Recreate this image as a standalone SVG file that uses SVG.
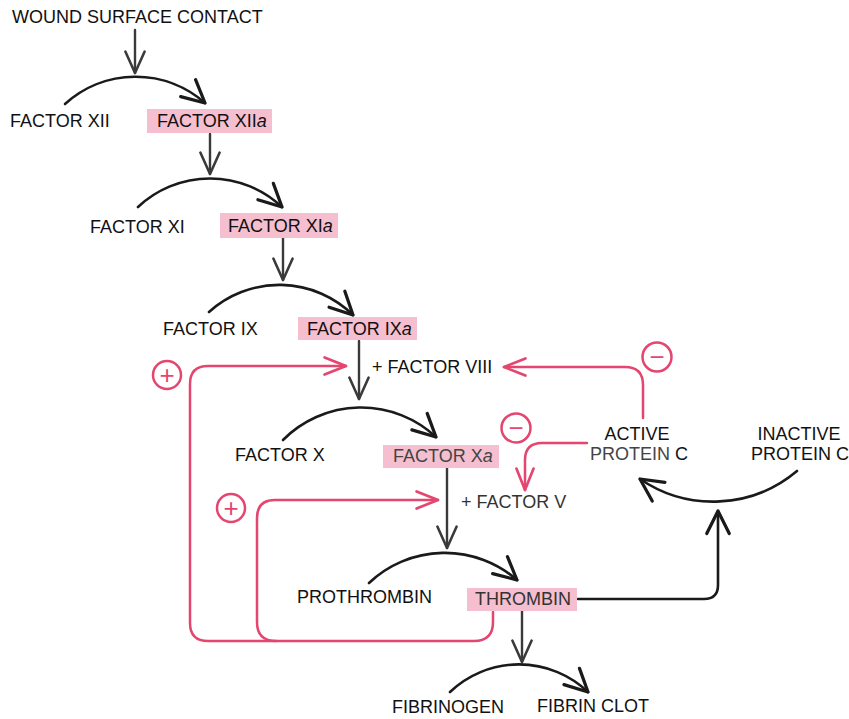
<svg xmlns="http://www.w3.org/2000/svg" width="849" height="719" viewBox="0 0 849 719">
<defs>
<style>
text{font-family:"Liberation Sans",Arial,sans-serif;font-size:18px;fill:#111}
.box{fill:#f5bfcf}
.blk{fill:none;stroke:#1a1a1a;stroke-width:2.6;stroke-linecap:round;stroke-linejoin:round}
.gry{fill:none;stroke:#3a3a3a;stroke-width:2.4;stroke-linecap:round}
.pnk{fill:none;stroke:#e4466f;stroke-width:2.5;stroke-linecap:round;stroke-linejoin:round}
.circ{fill:#fff;stroke:#e4466f;stroke-width:2.5}
.sym{fill:#e4466f;font-size:26px;text-anchor:middle}
</style>
<marker id="ab" markerUnits="userSpaceOnUse" markerWidth="30" markerHeight="30" viewBox="-20 -12 24 24" refX="0" refY="0" orient="auto">
<path d="M-18,-9 L0,0 L-18,9" fill="none" stroke="#1a1a1a" stroke-width="2.6" stroke-linecap="round" stroke-linejoin="round"/>
</marker>
<marker id="ag" markerUnits="userSpaceOnUse" markerWidth="30" markerHeight="30" viewBox="-24 -12 28 24" refX="0" refY="0" orient="auto">
<path d="M-20,-9 L0,0 L-20,9" fill="none" stroke="#3a3a3a" stroke-width="2.4" stroke-linecap="round" stroke-linejoin="round"/>
</marker>
<marker id="ap" markerUnits="userSpaceOnUse" markerWidth="30" markerHeight="30" viewBox="-24 -12 28 24" refX="0" refY="0" orient="auto">
<path d="M-20,-8 L0,0 L-20,8" fill="none" stroke="#e4466f" stroke-width="2.5" stroke-linecap="round" stroke-linejoin="round"/>
</marker>
</defs>
<rect width="849" height="719" fill="#fff"/>

<g id="connectors">
<path class="gry" d="M135 30 L135 73" marker-end="url(#ag)"/>
<path class="gry" d="M210 134 L210 174" marker-end="url(#ag)"/>
<path class="gry" d="M283 238 L283 280" marker-end="url(#ag)"/>
<path class="gry" d="M359 341 L359 399" marker-end="url(#ag)"/>
<path class="gry" d="M447 468 L447 548" marker-end="url(#ag)"/>
<path class="gry" d="M522 611 L522 662" marker-end="url(#ag)"/>
<path class="blk" d="M65 104 A105 105 0 0 1 205 103" marker-end="url(#ab)"/>
<path class="blk" d="M138 207 A105 105 0 0 1 282 207" marker-end="url(#ab)"/>
<path class="blk" d="M209 312 A105 105 0 0 1 353 315" marker-end="url(#ab)"/>
<path class="blk" d="M283 440 A110 110 0 0 1 436 437" marker-end="url(#ab)"/>
<path class="blk" d="M369 583 A110 110 0 0 1 517 580" marker-end="url(#ab)"/>
<path class="blk" d="M450 692 A100 100 0 0 1 588 692" marker-end="url(#ab)"/>
<path class="blk" d="M797 471 A130 130 0 0 1 640 479" marker-end="url(#ab)"/>
<path class="blk" d="M578 599 L704 599 Q718 599 718 585 L718 511" marker-end="url(#ab)"/>
<path class="pnk" d="M493 612 L493 622 Q493 641 474 641 L208 641 Q190 641 190 623 L190 384 Q190 366 208 366 L346 366" marker-end="url(#ap)"/>
<path class="pnk" d="M276 641 Q257 641 257 622 L257 518 Q257 500 275 500 L438 500" marker-end="url(#ap)"/>
<path class="pnk" d="M643 418 L643 385 Q643 367 625 367 L504 367" marker-end="url(#ap)"/>
<path class="pnk" d="M587 443 L542 443 Q525 443 525 460 L525 490" marker-end="url(#ap)"/>
</g>

<g id="signs">
<g id="plus1"><circle class="circ" cx="167" cy="375" r="14"/><text class="sym" x="167" y="384">+</text></g>
<g id="plus2"><circle class="circ" cx="231" cy="508" r="14"/><text class="sym" x="231" y="517">+</text></g>
<g id="minus1"><circle class="circ" cx="657" cy="357" r="14.5"/><text class="sym" x="657" y="366">−</text></g>
<g id="minus2"><circle class="circ" cx="516" cy="428" r="14.5"/><text class="sym" x="516" y="437">−</text></g>
</g>

<g id="wound"><text x="12" y="23">WOUND SURFACE CONTACT</text></g>
<g id="f12"><text x="10" y="127">FACTOR XII</text></g>
<g id="f12a"><rect class="box" x="147" y="109" width="125" height="24"/><text x="157" y="127">FACTOR XII<tspan font-style="italic">a</tspan></text></g>
<g id="f11"><text x="90" y="233">FACTOR XI</text></g>
<g id="f11a"><rect class="box" x="220" y="213" width="118" height="25"/><text x="228" y="232">FACTOR XI<tspan font-style="italic">a</tspan></text></g>
<g id="f9"><text x="163" y="335">FACTOR IX</text></g>
<g id="f9a"><rect class="box" x="298" y="317" width="119" height="23"/><text x="307" y="335">FACTOR IX<tspan font-style="italic">a</tspan></text></g>
<g id="f8"><text x="372" y="373">+ FACTOR VIII</text></g>
<g id="f10"><text x="235" y="461">FACTOR X</text></g>
<g id="f10a"><rect class="box" x="383" y="445" width="116" height="23"/><text x="393" y="462" style="fill:#444">FACTOR X<tspan font-style="italic">a</tspan></text></g>
<g id="f5"><text x="461" y="508" style="fill:#333">+ FACTOR V</text></g>
<g id="apc"><text x="637" y="440" text-anchor="middle">ACTIVE</text><text x="590" y="460"><tspan style="fill:#444">PROTEIN</tspan> C</text></g>
<g id="ipc"><text x="799" y="440" text-anchor="middle">INACTIVE</text><text x="751" y="460">PROTEIN C</text></g>
<g id="prothrombin"><text x="297" y="603">PROTHROMBIN</text></g>
<g id="thrombin"><rect class="box" x="467" y="588" width="110" height="23"/><text x="475" y="605" style="fill:#333">THROMBIN</text></g>
<g id="fibrinogen"><text x="392" y="713">FIBRINOGEN</text></g>
<g id="fibrin"><text x="537" y="712">FIBRIN CLOT</text></g>
</svg>
